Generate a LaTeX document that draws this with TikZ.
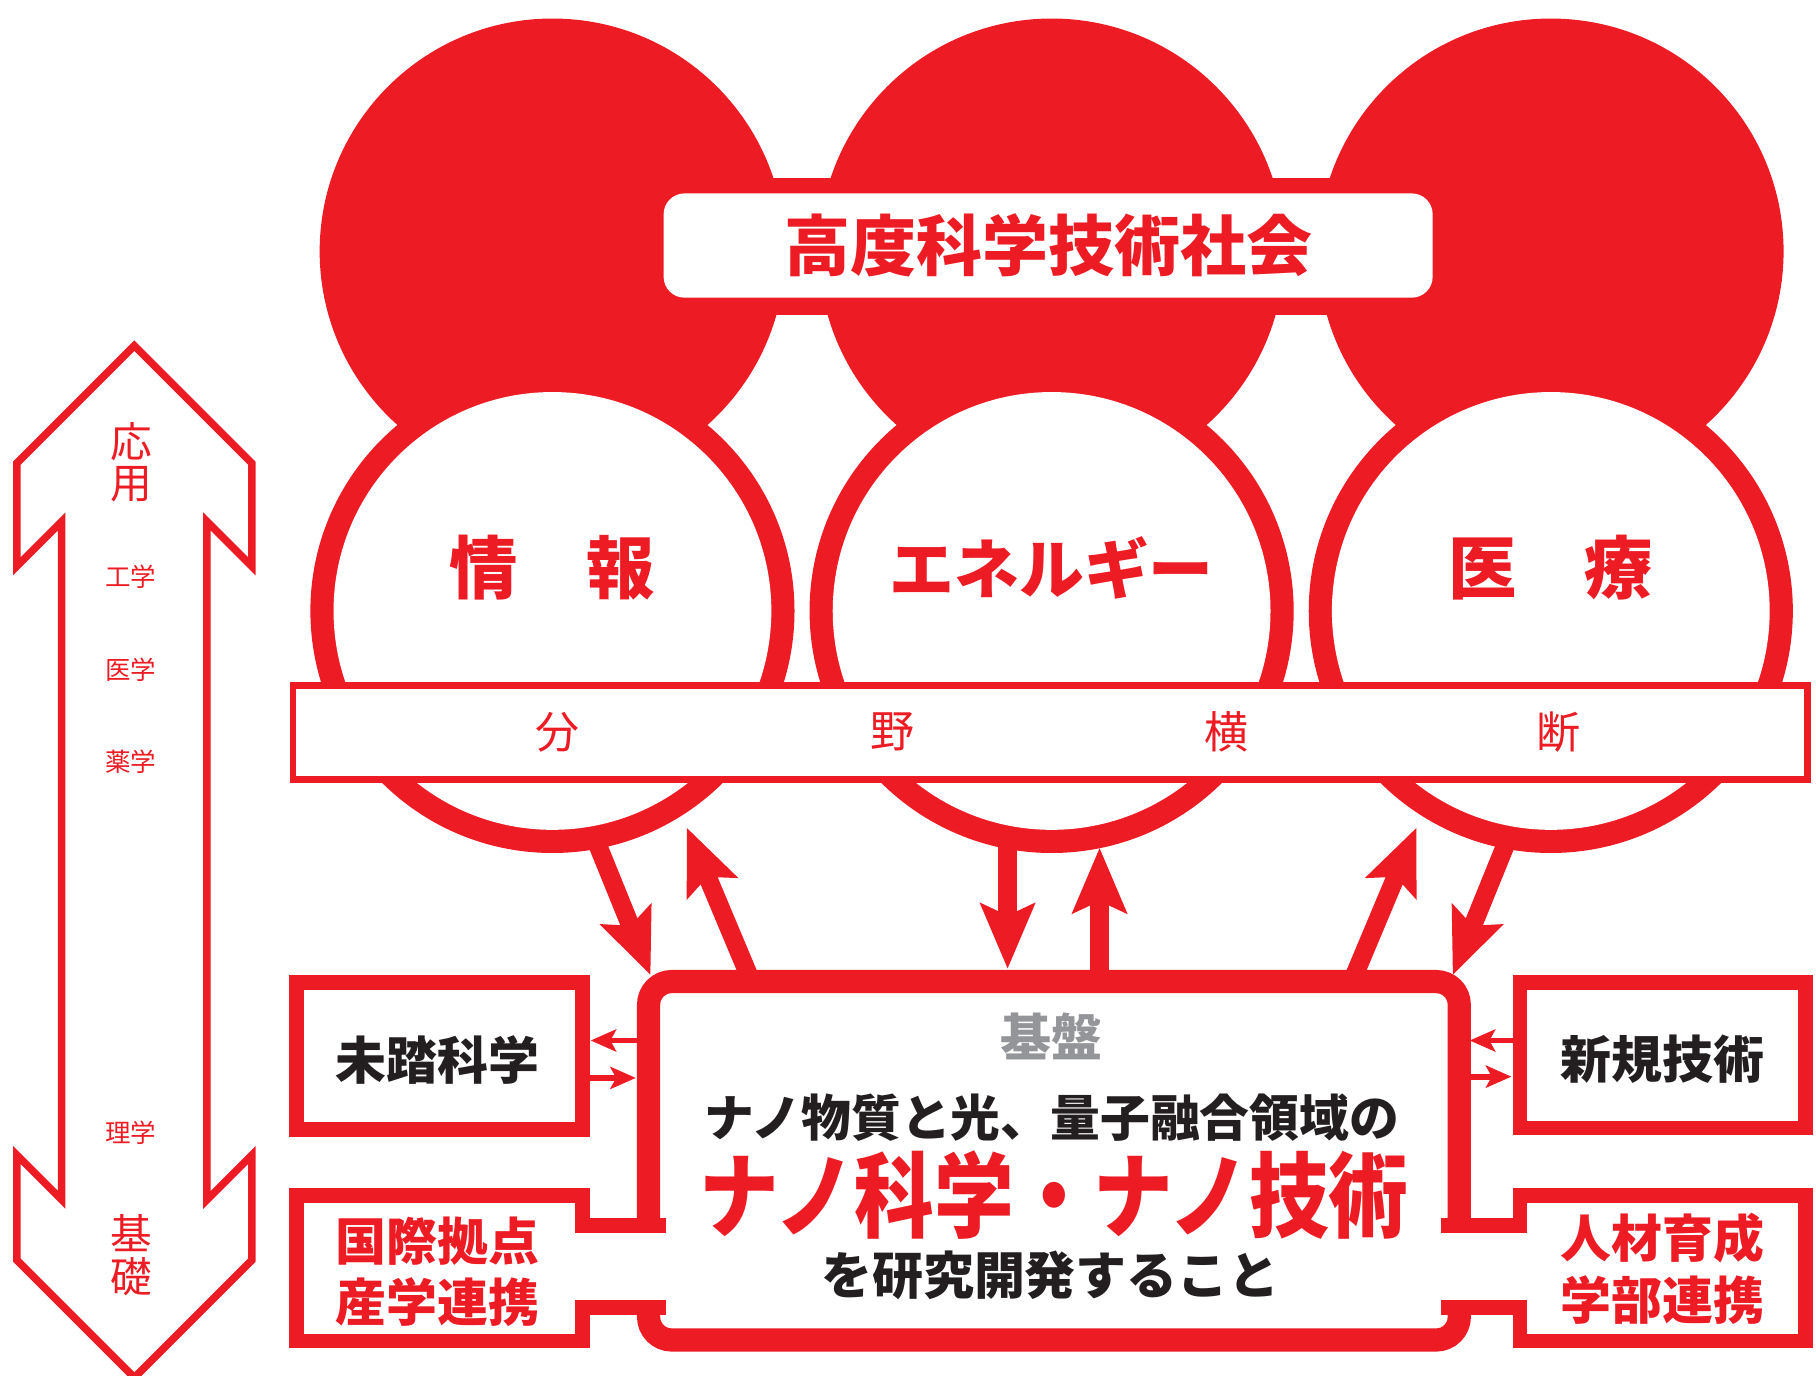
\documentclass[tikz,border=0pt]{standalone}
\usepackage{fontspec}
\usetikzlibrary{arrows.meta}
\newfontfamily\jp{Noto Sans CJK JP}
\definecolor{jred}{RGB}{237,28,36}
\definecolor{jgrey}{RGB}{147,149,152}
\definecolor{jblack}{RGB}{35,31,32}
\newcommand{\fsz}[1]{\fontsize{#1}{#1}\selectfont}
\begin{document}
\begin{tikzpicture}[x=0.5pt,y=-0.5pt,
  lbl/.style={inner sep=0pt, outer sep=0pt, font=\jp},
  rb/.style={lbl, text=jred, font=\jp\bfseries},
  kb/.style={lbl, text=jblack, font=\jp\bfseries},
  rthin/.style={lbl, text=jred, font=\jp},
  sidebox/.style={draw=jred, line width=6.25pt, fill=white},
  bigarrow/.style={jred, line width=8pt, -{Stealth[length=28pt,width=23pt,inset=5pt]}},
  smallarrow/.style={jred, line width=2.5pt, -{Stealth[length=11pt,width=9.5pt,inset=2.5pt]}}
]
\useasboundingbox (0,0) rectangle (1568,1188);

% top red circles and band
\foreach \cx in {477,908,1339} { \fill[jred] (\cx,217) circle (201); }
\fill[jred] (477,154) rectangle (1339,272);
\node (soc) [rb, fill=white, rounded corners=9pt, minimum width=332pt, minimum height=45pt] at (905,212) {\fsz{28.5}高度科学技術社会};

% bottom circles (red ring, white inside)
\foreach \cx in {477,908,1339} {
  \fill[jred] (\cx,527.5) circle (209);
  \fill[white] (\cx,527.5) circle (189);
}
\node (info) [rb] at (477,490) {\fsz{29.5}情　報};
\node (ener) [rb] at (908,490) {\fsz{28}エネルギー};
\node (med)  [rb] at (1339,490) {\fsz{29.5}医　療};

% cross-field band
\draw[jred, line width=3pt, fill=white] (253,592) rectangle (1561,673);
\node (b1) [rthin] at (481,632) {\fsz{19}分};
\node (b2) [rthin] at (771,632) {\fsz{19}野};
\node (b3) [rthin] at (1059,632) {\fsz{19}横};
\node (b4) [rthin] at (1346,632) {\fsz{19}断};

% main box
\draw[jred, line width=10pt, fill=white, rounded corners=10pt] (560,847.5) rectangle (1260,1157);

% side boxes
\draw[sidebox] (255.85,848.25) rectangle (502.75,975.25);
\draw[sidebox] (255.85,1032.25) rectangle (503.15,1157.75);
\draw[sidebox] (1312.25,848.25) rectangle (1558.75,973.75);
\draw[sidebox] (1312.25,1032.25) rectangle (1558.75,1157.75);

% joins between main box and lower side boxes
\fill[jred] (497,1052) rectangle (575,1065);
\fill[jred] (497,1122.6) rectangle (575,1135.5);
\fill[white] (496.5,1065) rectangle (570.5,1122.6);
\fill[jred] (1244,1052) rectangle (1318.5,1065);
\fill[jred] (1244,1122.6) rectangle (1318.5,1135.5);
\fill[white] (1249.5,1065) rectangle (1319,1122.6);

% big arrows
\coordinate (a1s) at (513,722);     \coordinate (a1e) at (561.7,842);
\coordinate (a2s) at (648.6,847);   \coordinate (a2e) at (593,714.6);
\coordinate (a3s) at (870,722);     \coordinate (a3e) at (870,836.6);
\coordinate (a4s) at (949.4,847);   \coordinate (a4e) at (949.4,731.9);
\coordinate (a5s) at (1167.4,847);  \coordinate (a5e) at (1223,714.6);
\coordinate (a6s) at (1303,722);    \coordinate (a6e) at (1254.3,842);
\draw[bigarrow] (a1s) -- (a1e);
\draw[bigarrow] (a2s) -- (a2e);
\draw[bigarrow] (a3s) -- (a3e);
\draw[bigarrow] (a4s) -- (a4e);
\draw[bigarrow] (a5s) -- (a5e);
\draw[bigarrow] (a6s) -- (a6e);

% small arrows
\coordinate (s1s) at (556,898.4);  \coordinate (s1e) at (510,898.4);
\coordinate (s2s) at (503,930.7);  \coordinate (s2e) at (549,930.7);
\coordinate (s3s) at (1312,898.4); \coordinate (s3e) at (1269,898.4);
\coordinate (s4s) at (1264,929.6); \coordinate (s4e) at (1305,929.6);
\draw[smallarrow] (s1s) -- (s1e);
\draw[smallarrow] (s2s) -- (s2e);
\draw[smallarrow] (s3s) -- (s3e);
\draw[smallarrow] (s4s) -- (s4e);

% main box text
\node (kiban) [lbl, text=jgrey, font=\jp\bfseries] at (908,895) {\fsz{22}基盤};
\node (l1) [kb] at (908,965) {\fsz{21.5}ナノ物質と光、量子融合領域の};
\node (l2) [rb] at (910,1032) {\scalebox{0.86}[1]{\fsz{40}ナノ科学・ナノ技術}};
\node (l3) [kb] at (907,1101) {\fsz{22}を研究開発すること};

% side box texts
\node (mito) [kb] at (378,915) {\fsz{22}未踏科学};
\node (shin) [kb] at (1435.5,914.5) {\fsz{22}新規技術};
\node (koku) [rb] at (378,1071.5) {\fsz{22}国際拠点};
\node (sang) [rb] at (378,1124.5) {\fsz{22}産学連携};
\node (jinz) [rb] at (1435.5,1069) {\fsz{22}人材育成};
\node (gaku) [rb] at (1435.5,1122.6) {\fsz{22}学部連携};

% left double arrow
\draw[jred, line width=3.25pt, line join=miter]
  (116,298.5) -- (217.5,400) -- (217.5,489) -- (178.7,450.2) -- (178.7,1036)
  -- (217.5,997.2) -- (217.5,1088) -- (116,1189.5) -- (14.5,1088) -- (14.5,997.2)
  -- (53.3,1036) -- (53.3,450.2) -- (14.5,489) -- (14.5,400) -- cycle;
\node (o1) [rthin] at (113,381) {\fsz{18}応};
\node (o2) [rthin] at (113,418) {\fsz{18}用};
\node (f1) [rthin] at (113,498) {\fsz{11}工学};
\node (f2) [rthin] at (113,578) {\fsz{11}医学};
\node (f3) [rthin] at (113,658) {\fsz{11}薬学};
\node (f4) [rthin] at (113,978) {\fsz{11}理学};
\node (k1) [rthin] at (113,1065) {\fsz{18}基};
\node (k2) [rthin] at (113,1102) {\fsz{18}礎};
\end{tikzpicture}
\end{document}
